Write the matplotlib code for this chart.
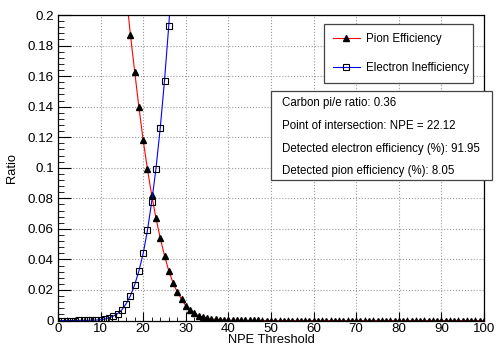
import matplotlib
matplotlib.use("Agg")
import matplotlib.pyplot as plt
from matplotlib.ticker import MultipleLocator
from matplotlib.patches import Rectangle

plt.rcParams['font.family'] = ['Liberation Sans', 'DejaVu Sans']

# Pion efficiency (red, triangles), NPE threshold 15..100
pion_npe = list(range(15, 101))
pion_eff = [0.245, 0.214, 0.187, 0.163, 0.1395, 0.118, 0.099, 0.082, 0.067, 0.054,
            0.0425, 0.0325, 0.0247, 0.0186, 0.014, 0.0097, 0.0069, 0.0047, 0.0031, 0.0021,
            0.0015, 0.0010, 0.0007, 0.0005, 0.0003, 0.0002, 0.00015, 0.0001, 0.00008, 0.00005,
            0.00003, 0.00002, 0.00001, 0.0, 0.0, 0.0, 0.0, 0.0, 0.0, 0.0,
            0.0, 0.0, 0.0, 0.0, 0.0, 0.0, 0.0, 0.0, 0.0, 0.0,
            0.0, 0.0, 0.0, 0.0, 0.0, 0.0, 0.0, 0.0, 0.0, 0.0,
            0.0, 0.0, 0.0, 0.0, 0.0, 0.0, 0.0, 0.0, 0.0, 0.0,
            0.0, 0.0, 0.0, 0.0, 0.0, 0.0, 0.0, 0.0, 0.0, 0.0,
            0.0, 0.0, 0.0, 0.0, 0.0, 0.0]

# Electron inefficiency (blue, open squares), NPE threshold 0..27
elec_npe = list(range(0, 28))
elec_ineff = [0.0, 0.0, 0.0, 0.0, 0.0, 0.0001, 0.0001, 0.0001, 0.0002, 0.0003,
              0.0005, 0.0010, 0.0018, 0.0029, 0.0045, 0.0070, 0.0110, 0.0162, 0.0234, 0.0325,
              0.0440, 0.0590, 0.0778, 0.0995, 0.126, 0.157, 0.193, 0.235]

info_lines = ["Carbon pi/e ratio: 0.36",
              "Point of intersection: NPE = 22.12",
              "Detected electron efficiency (%): 91.95",
              "Detected pion efficiency (%): 8.05"]

W, H = 496, 347
fig = plt.figure(figsize=(W / 100, H / 100), dpi=100)
ax = fig.add_axes([58 / W, 1 - 320.5 / H, (484 - 58) / W, (320.5 - 15) / H])

ax.plot(pion_npe, pion_eff, color='red', lw=0.8, marker='^', ms=3.8,
        mfc='black', mec='black', label='Pion Efficiency')
ax.plot(elec_npe, elec_ineff, color='blue', lw=0.8, marker='s', ms=4.3,
        mfc='none', mec='black', mew=0.8, label='Electron Inefficiency')

ax.set_xlim(0, 100)
ax.set_ylim(0, 0.2)
ax.xaxis.set_major_locator(MultipleLocator(10))
ax.xaxis.set_minor_locator(MultipleLocator(2))
ax.yaxis.set_minor_locator(MultipleLocator(0.004))
ax.set_yticks([0, 0.02, 0.04, 0.06, 0.08, 0.1, 0.12, 0.14, 0.16, 0.18, 0.2])
ax.set_yticklabels(['0', '0.02', '0.04', '0.06', '0.08', '0.1', '0.12', '0.14',
                    '0.16', '0.18', '0.2'])
ax.tick_params(axis='both', which='both', direction='in', labelsize=9.6, colors='black')
ax.tick_params(axis='y', which='major', length=9.2, pad=3)
ax.tick_params(axis='y', which='minor', length=4.6)
ax.tick_params(axis='x', which='major', length=6.5, pad=1.5)
ax.tick_params(axis='x', which='minor', length=3.2)
ax.grid(True, which='major', linestyle=':', color='#999999', lw=0.8)
for s in ax.spines.values():
    s.set_linewidth(0.9)

fig.text(271 / W, 1 - 340 / H, 'NPE Threshold', ha='center', va='center', fontsize=9.3)
fig.text(12 / W, 1 - 168 / H, 'Ratio', ha='center', va='center', rotation=90, fontsize=9.3)

leg = ax.legend(loc='center left',
                bbox_to_anchor=(324 / W, 1 - 84 / H, (473 - 324) / W, (84 - 23) / H),
                bbox_transform=fig.transFigure, mode='expand', fancybox=False, framealpha=1,
                edgecolor='#444444', fontsize=8.3, handlelength=2.4, labelspacing=1.45,
                borderpad=0.75, borderaxespad=0, handletextpad=0.5)
leg.get_frame().set_linewidth(0.9)

# info box
box = Rectangle((271 / W, 1 - 180 / H), (492 - 271) / W, (180 - 91) / H,
                transform=fig.transFigure, facecolor='white', edgecolor='#444444', lw=0.9)
fig.patches.append(box)
for txt, yy in zip(info_lines, [103, 126, 149, 171]):
    fig.text(282 / W, 1 - yy / H, txt, ha='left', va='center', fontsize=8.3)

fig.savefig('out.png', dpi=100)
